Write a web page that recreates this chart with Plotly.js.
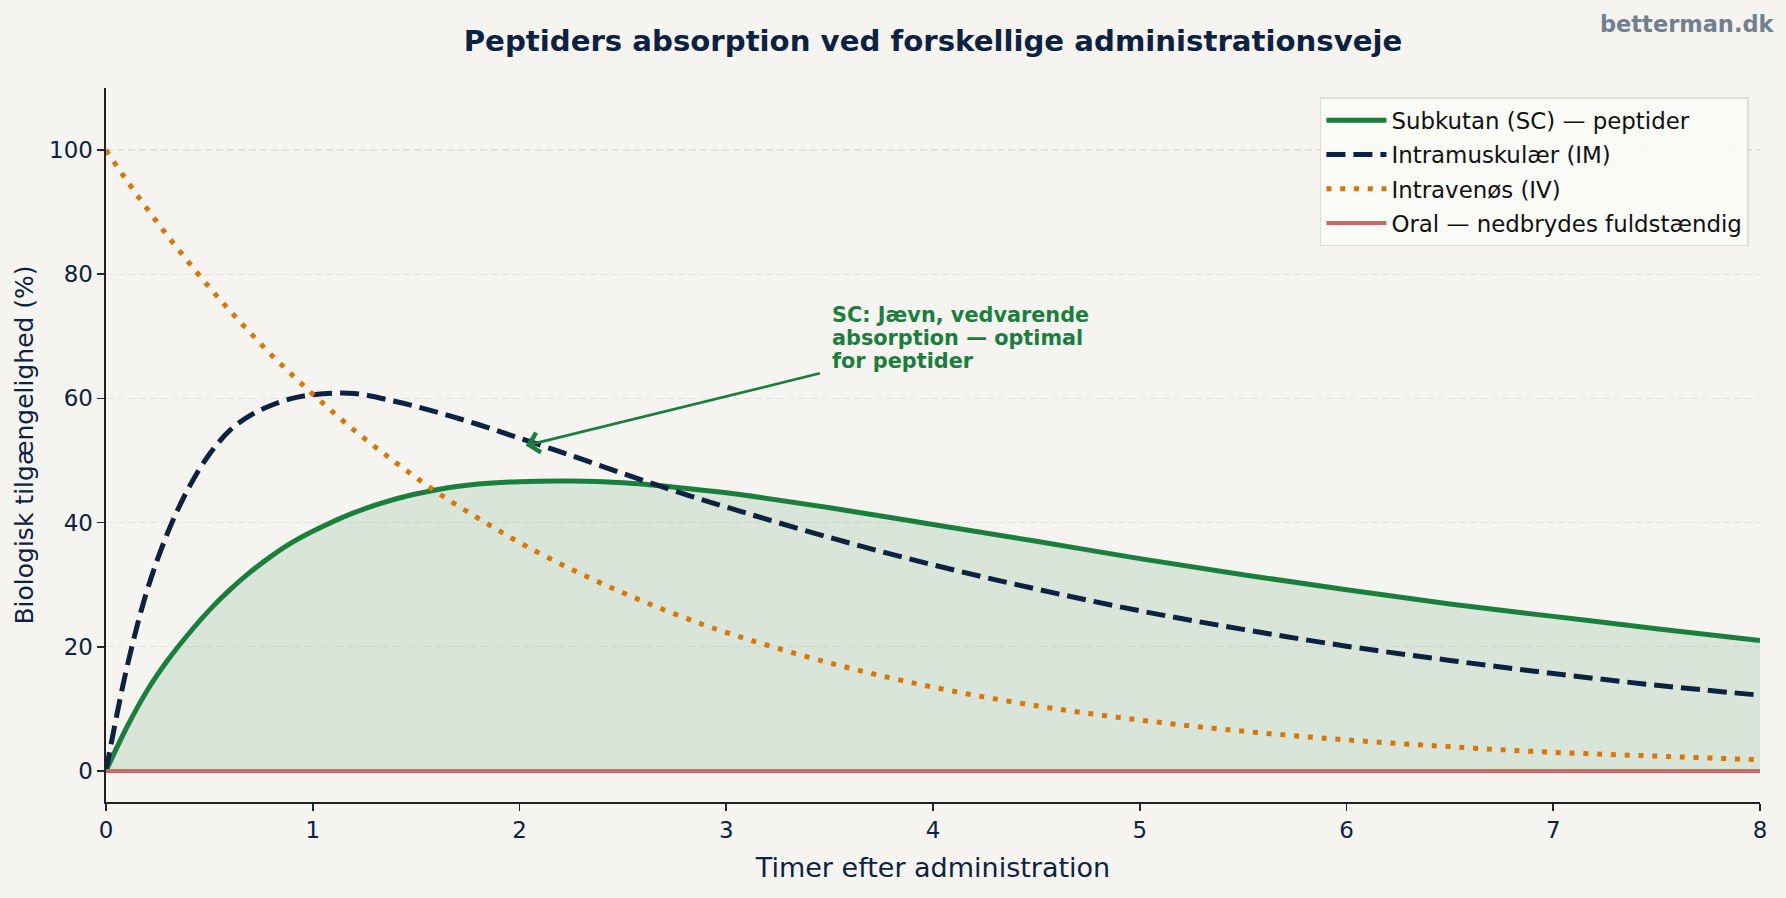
<!DOCTYPE html>
<html>
<head>
<meta charset="utf-8">
<script src="https://cdn.plot.ly/plotly-3.0.1.min.js"></script>
<style>
  html, body { margin: 0; padding: 0; background: #f5f4f0; }
  #chart { width: 1786px; height: 898px; }
</style>
</head>
<body>
<div id="chart"></div>
<script>
// Time (hours)
const hours = [0, 0.1, 0.2, 0.3, 0.4, 0.5, 0.6, 0.7, 0.8, 0.9, 1.0, 1.2, 1.4, 1.6, 1.8, 2.0, 2.25, 2.5, 2.75, 3.0, 3.5, 4.0, 4.5, 5.0, 5.5, 6.0, 6.5, 7.0, 7.5, 8.0];
// Bioavailability (%) per route
const subcutan = [0, 7.0, 13.0, 17.9, 22.1, 25.9, 29.2, 32.1, 34.6, 36.8, 38.6, 41.6, 43.8, 45.3, 46.2, 46.6, 46.7, 46.4, 45.7, 44.8, 42.4, 39.7, 37.0, 34.2, 31.6, 29.2, 26.9, 24.9, 22.9, 21.0];
const intramuskulaer = [0, 16.5, 29.2, 38.5, 45.6, 51.0, 54.9, 57.3, 58.9, 60.0, 60.6, 60.8, 59.5, 57.8, 55.8, 53.6, 50.8, 47.9, 45.1, 42.5, 37.6, 33.2, 29.3, 25.8, 22.8, 20.1, 17.8, 15.7, 13.8, 12.2];
const intravenoes = [100, 95.1, 90.5, 86.1, 81.9, 77.9, 74.1, 70.5, 67.0, 63.8, 60.7, 54.9, 49.7, 44.9, 40.7, 36.8, 32.5, 28.7, 25.3, 22.3, 17.4, 13.5, 10.5, 8.2, 6.4, 5.0, 3.9, 3.0, 2.4, 1.8];
const oral = [0, 0, 0, 0, 0, 0, 0, 0, 0, 0, 0, 0, 0, 0, 0, 0, 0, 0, 0, 0, 0, 0, 0, 0, 0, 0, 0, 0, 0, 0];

const seriesNames = ["Subkutan (SC) — peptider", "Intramuskulær (IM)", "Intravenøs (IV)", "Oral — nedbrydes fuldstændig"];
const xTicks = [0, 1, 2, 3, 4, 5, 6, 7, 8];
const yTicks = [0, 20, 40, 60, 80, 100];
const annotationLines = ["SC: Jævn, vedvarende", "absorption — optimal", "for peptider"];

const FONT = "DejaVu Sans, Arial, sans-serif";
const NAVY = "#0d2240";
const GREEN = "#1a7f3c";
const ORANGE = "#d97706";
const RED = "#d06666";

const traces = [
  { x: hours, y: subcutan, type: "scatter", mode: "lines", fill: "tozeroy",
    fillcolor: "rgba(26,127,60,0.12)", line: { width: 0, shape: "spline", color: "rgba(0,0,0,0)" },
    showlegend: false, hoverinfo: "skip" },
  { x: hours, y: subcutan, type: "scatter", mode: "lines", name: seriesNames[0], legendgroup: "a",
    line: { color: GREEN, width: 5, shape: "spline" } },
  { x: hours, y: intramuskulaer, type: "scatter", mode: "lines", name: seriesNames[1], legendgroup: "b",
    line: { color: NAVY, width: 5, shape: "spline", dash: "19px,8px" } },
  { x: hours, y: intravenoes, type: "scatter", mode: "lines", name: seriesNames[2], legendgroup: "c",
    line: { color: ORANGE, width: 5, shape: "spline", dash: "5px,8.8px" } },
  { x: hours, y: oral, type: "scatter", mode: "lines", name: seriesNames[3], legendgroup: "d",
    line: { color: RED, width: 4 } }
];

const lineYs = [73.5, 69.8, 66.1];
const annotations = annotationLines.map((t, i) => ({
  x: 3.5, y: lineYs[i], xref: "x", yref: "y", text: "<b>" + t + "</b>",
  showarrow: false, xanchor: "left", yanchor: "middle",
  font: { family: FONT, size: 20.8, color: GREEN }
}));
annotations.push({
  x: 2.03, y: 52.4, xref: "x", yref: "y", ax: 3.46, ay: 64.1, axref: "x", ayref: "y",
  text: "", showarrow: true, arrowhead: 4, arrowsize: 1.5, arrowwidth: 2.6, arrowcolor: GREEN
});
annotations.push({
  x: 1.0100, y: 1.0896, xref: "paper", yref: "paper", text: "<b>betterman.dk</b>",
  showarrow: false, xanchor: "right", yanchor: "middle",
  font: { family: FONT, size: 22.5, color: "#708090" }
});

const layout = {
  width: 1786, height: 898,
  paper_bgcolor: "#f5f4f0", plot_bgcolor: "#f5f4f0",
  margin: { l: 106, r: 26, t: 88, b: 96 },
  font: { family: FONT, color: NAVY },
  title: { text: "<b>Peptiders absorption ved forskellige administrationsveje</b>",
    font: { family: FONT, size: 29.2, color: NAVY },
    x: 0.5, xref: "paper", y: 1 - 41 / 898, yref: "container", yanchor: "middle" },
  xaxis: {
    range: [0, 8], tickvals: xTicks, ticktext: xTicks.map(String),
    showgrid: false, zeroline: false,
    showline: true, linecolor: "#222222", linewidth: 1.6,
    ticks: "outside", ticklen: 7, tickwidth: 1.6, tickcolor: "#1e2a3a",
    tickfont: { family: FONT, size: 22.9, color: NAVY },
    title: { text: "Timer efter administration", font: { family: FONT, size: 27, color: NAVY }, standoff: 16 },
    automargin: false
  },
  yaxis: {
    range: [-5, 110], tickvals: yTicks, ticktext: yTicks.map(String),
    showgrid: true, gridcolor: "#e3e1db", gridwidth: 1.3, griddash: "7px,4px",
    zeroline: false,
    showline: true, linecolor: "#222222", linewidth: 1.6,
    ticks: "outside", ticklen: 7, tickwidth: 1.6, tickcolor: "#1e2a3a",
    tickfont: { family: FONT, size: 22.9, color: NAVY },
    title: { text: "Biologisk tilgængelighed (%)", font: { family: FONT, size: 25, color: NAVY }, standoff: 8 },
    automargin: false
  },
  legend: {
    x: 0.9933, y: 0.987, xanchor: "right", yanchor: "top",
    bgcolor: "rgba(250,250,248,0.85)", bordercolor: "#dddcd6", borderwidth: 1.5,
    font: { family: FONT, size: 22.9, color: "#111111" },
    tracegroupgap: 1.5, itemwidth: 60
  },
  annotations: annotations,
  showlegend: true
};

Plotly.newPlot("chart", traces, layout, { displayModeBar: false, staticPlot: true });
</script>
</body>
</html>
